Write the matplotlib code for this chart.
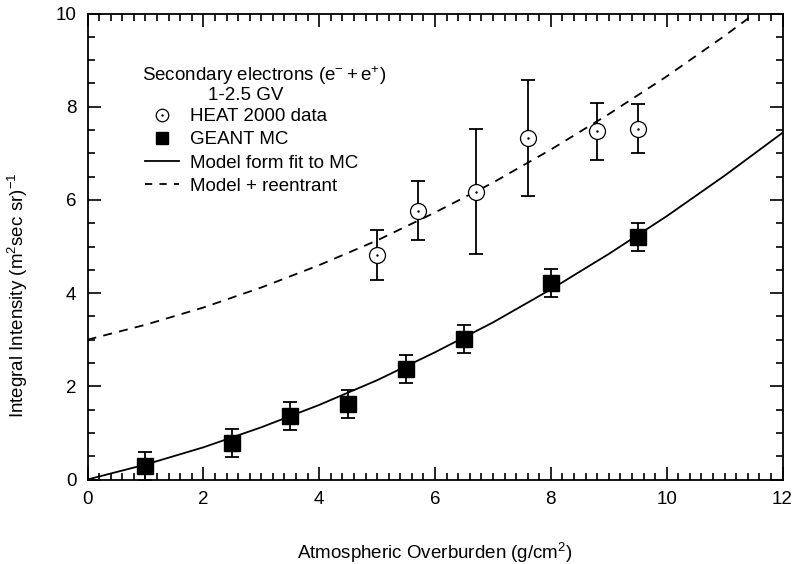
import matplotlib
matplotlib.use("Agg")
import matplotlib.pyplot as plt
from matplotlib.ticker import MultipleLocator
from matplotlib.lines import Line2D
import numpy as np

plt.rcParams['font.family'] = ['Liberation Sans', 'DejaVu Sans']
plt.rcParams['mathtext.fontset'] = 'custom'
plt.rcParams['mathtext.rm'] = 'Liberation Sans'
plt.rcParams['mathtext.it'] = 'Liberation Sans'
plt.rcParams['font.size'] = 13.5

# HEAT 2000 data (open circles)
heat_x = [5.0, 5.7, 6.7, 7.6, 8.8, 9.5]
heat_y = [4.82, 5.77, 6.18, 7.33, 7.47, 7.53]
heat_err = [0.54, 0.63, 1.35, 1.25, 0.62, 0.52]

# GEANT MC (filled squares)
mc_x = [1.0, 2.5, 3.5, 4.5, 5.5, 6.5, 8.0, 9.5]
mc_y = [0.30, 0.79, 1.36, 1.63, 2.38, 3.02, 4.21, 5.21]
mc_err = [0.30, 0.30, 0.30, 0.30, 0.30, 0.30, 0.30, 0.30]

# model curves
model_x = [0, 1, 2, 3, 4, 5, 6, 7, 8, 9, 10, 11, 12]
fit_y = [0.0, 0.32, 0.69, 1.12, 1.60, 2.13, 2.73, 3.37, 4.08, 4.84, 5.65, 6.52, 7.44]
reentrant_y = [3.0, 3.32, 3.69, 4.12, 4.60, 5.13, 5.73, 6.37, 7.08, 7.84, 8.65, 9.52, 10.44]

fig = plt.figure(figsize=(7.93, 5.64), dpi=100)
ax = fig.add_axes([87.5 / 793, 1 - 479.5 / 564, 695 / 793, 466 / 564])

ax.plot(model_x, fit_y, color='black', lw=1.3)
ax.plot(model_x, reentrant_y, color='black', lw=1.3, dashes=(5, 4))

ax.errorbar(heat_x, heat_y, yerr=heat_err, fmt='none', ecolor='black',
            elinewidth=1.3, capsize=4.8, capthick=1.3)
ax.plot(heat_x, heat_y, 'o', ms=11.5, mfc='white', mec='black', mew=0.9)
ax.plot(heat_x, heat_y, '.', ms=1.5, color='black')

ax.errorbar(mc_x, mc_y, yerr=mc_err, fmt='s', ms=11.5, color='black',
            elinewidth=1.3, capsize=4.8, capthick=1.3)

ax.set_xlim(0, 12)
ax.set_ylim(0, 10)
ax.xaxis.set_major_locator(MultipleLocator(2))
ax.xaxis.set_minor_locator(MultipleLocator(0.2))
ax.yaxis.set_major_locator(MultipleLocator(2))
ax.yaxis.set_minor_locator(MultipleLocator(0.5))
ax.tick_params(which='both', direction='in', top=True, right=True, width=1.2)
ax.tick_params(which='major', length=9.5, pad=8)
ax.tick_params(which='minor', length=5)
for s in ax.spines.values():
    s.set_linewidth(1.3)

ax.set_xlabel('Atmospheric Overburden (g/cm$\\mathregular{^2}$)', labelpad=24)
fig.text(18 / 793, 1 - 295 / 564,
         'Integral Intensity (m$\\mathregular{^2}$sec sr)$\\mathregular{^{-1}}$',
         rotation=90, ha='center', va='center')

# legend title, two lines
fig.text(142 / 793, 1 - 76 / 564, 'Secondary electrons ($\\mathregular{e^{-}+ e^{+}}$)',
         ha='left', va='center')
fig.text(246 / 793, 1 - 96 / 564, '1-2.5 GV', ha='center', va='center')

h_heat = (Line2D([], [], ls='none', marker='o', ms=9, mfc='white', mec='black', mew=0.9),
          Line2D([], [], ls='none', marker='.', ms=1.5, color='black'))
h_mc = Line2D([], [], ls='none', marker='s', ms=9, color='black')
h_fit = Line2D([], [], color='black', lw=1.3)
h_re = Line2D([], [], color='black', lw=1.3, dashes=(4, 4))
leg = ax.legend([h_heat, h_mc, h_fit, h_re],
                ['HEAT 2000 data', 'GEANT MC', 'Model form fit to MC', 'Model + reentrant'],
                loc='upper left', bbox_to_anchor=(145 / 793, 1 - 108 / 564),
                bbox_transform=fig.transFigure, frameon=False, borderpad=0,
                handlelength=1.81, handletextpad=0.59, labelspacing=0.33,
                borderaxespad=0, fontsize=13.5)

fig.savefig('out.png', dpi=100)
